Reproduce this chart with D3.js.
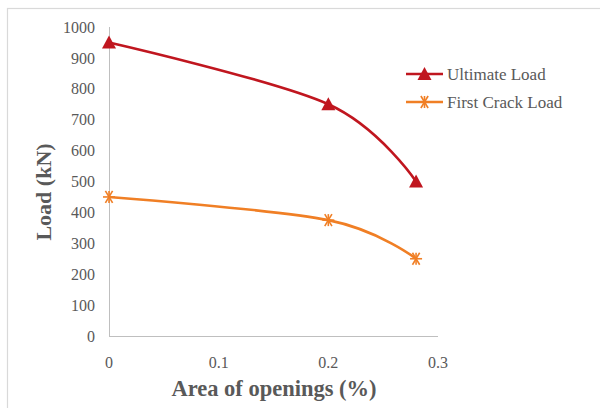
<!DOCTYPE html>
<html>
<head>
<meta charset="utf-8">
<script src="https://cdn.jsdelivr.net/npm/d3@7"></script>
<style>
  html, body { margin: 0; padding: 0; background: #fff; }
  svg { display: block; }
  svg text { font-family: "Liberation Serif", serif; }
</style>
</head>
<body>
<svg id="chart" width="600" height="408"></svg>
<script>
// Opening area (%) and the corresponding loads (kN)
const openings = [0, 0.2, 0.28];
const ultimateLoad = [950, 750, 500];
const firstCrackLoad = [450, 375, 250];
const xTicks = [0, 0.1, 0.2, 0.3];
const yTicks = [0, 100, 200, 300, 400, 500, 600, 700, 800, 900, 1000];
const seriesNames = ["Ultimate Load", "First Crack Load"];

const svg = d3.select("#chart");

// Chart frame (runs off the right and bottom edges)
svg.append("rect")
  .attr("x", 7.5).attr("y", 8.5)
  .attr("width", 640).attr("height", 440)
  .attr("fill", "#fff")
  .attr("stroke", "#d9d9d9").attr("stroke-width", 1.2);

const x = d3.scaleLinear().domain([0, 0.3]).range([109, 438]);
const y = d3.scaleLinear().domain([0, 1000]).range([336, 27]);

// Axis lines
svg.append("line")
  .attr("x1", x(0) + 0.5).attr("x2", x(0) + 0.5)
  .attr("y1", y(1000)).attr("y2", y(0))
  .attr("stroke", "#bfbfbf");
svg.append("line")
  .attr("x1", x(0)).attr("x2", x(0.3))
  .attr("y1", y(0) + 0.5).attr("y2", y(0) + 0.5)
  .attr("stroke", "#bfbfbf");

// Tick labels
svg.append("g").selectAll("text").data(yTicks).join("text")
  .attr("x", 95).attr("y", d => y(d))
  .attr("dy", "0.35em")
  .attr("text-anchor", "end")
  .attr("font-size", 16)
  .attr("fill", "#595959")
  .text(d => d);

svg.append("g").selectAll("text").data(xTicks).join("text")
  .attr("x", d => x(d)).attr("y", 368)
  .attr("text-anchor", "middle")
  .attr("font-size", 16)
  .attr("fill", "#595959")
  .text(d => d === 0 ? "0" : d3.format(".1f")(d));

// Axis titles
svg.append("text")
  .attr("x", 274).attr("y", 396)
  .attr("text-anchor", "middle")
  .attr("font-size", 22.5).attr("font-weight", "bold")
  .attr("fill", "#595959")
  .text("Area of openings (%)");

svg.append("text")
  .attr("transform", "translate(51,192) rotate(-90)")
  .attr("text-anchor", "middle")
  .attr("font-size", 22).attr("font-weight", "bold")
  .attr("fill", "#595959")
  .text("Load (kN)");

// Smoothed series lines
const line = d3.line()
  .x(d => x(d[0])).y(d => y(d[1]))
  .curve(d3.curveCardinal.tension(0));

const series = [
  { name: seriesNames[0], values: ultimateLoad, color: "#c0161f", marker: "triangle" },
  { name: seriesNames[1], values: firstCrackLoad, color: "#f07f25", marker: "star" }
];

function drawMarker(g, type, cx, cy, color) {
  if (type === "triangle") {
    g.append("path")
      .attr("d", `M${cx},${cy - 7}L${cx + 7},${cy + 6}L${cx - 7},${cy + 6}Z`)
      .attr("fill", color);
  } else {
    const r = 6;
    const segs = [[-r, 0, r, 0], [-r * 0.6, -r, r * 0.6, r], [-r * 0.6, r, r * 0.6, -r], [0, -r, 0, r]];
    segs.forEach(s => g.append("line")
      .attr("x1", cx + s[0]).attr("y1", cy + s[1])
      .attr("x2", cx + s[2]).attr("y2", cy + s[3])
      .attr("stroke", color).attr("stroke-width", 1.6));
  }
}

series.forEach(s => {
  const pts = openings.map((o, i) => [o, s.values[i]]);
  svg.append("path")
    .attr("d", line(pts))
    .attr("fill", "none")
    .attr("stroke", s.color)
    .attr("stroke-width", 2.6);
  const g = svg.append("g");
  pts.forEach(p => drawMarker(g, s.marker, x(p[0]), y(p[1]), s.color));
});

// Legend
series.forEach((s, i) => {
  const ly = 74 + i * 28;
  const g = svg.append("g");
  g.append("line")
    .attr("x1", 406).attr("x2", 443)
    .attr("y1", ly).attr("y2", ly)
    .attr("stroke", s.color).attr("stroke-width", 2.6);
  drawMarker(g, s.marker, 424.5, ly, s.color);
  g.append("text")
    .attr("x", 447).attr("y", ly)
    .attr("dy", "0.35em")
    .attr("font-size", 17)
    .attr("fill", "#595959")
    .text(s.name);
});
</script>
</body>
</html>
